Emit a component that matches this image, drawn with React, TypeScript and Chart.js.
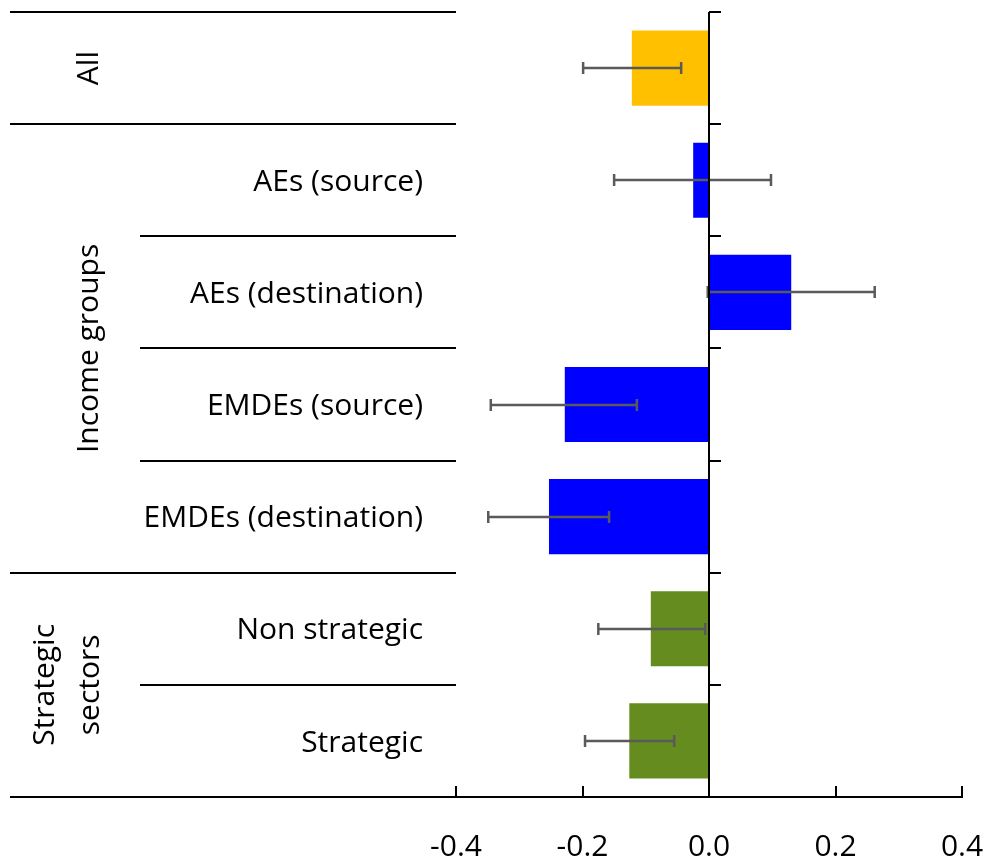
import React, { useEffect, useRef } from 'react';
import { Chart, registerables } from 'chart.js';

Chart.register(...registerables);

// Coefficient estimates with confidence intervals, one row per category
const categories = [
  'All',
  'AEs (source)',
  'AEs (destination)',
  'EMDEs (source)',
  'EMDEs (destination)',
  'Non strategic',
  'Strategic',
];
const estimates = [-0.122, -0.025, 0.13, -0.228, -0.253, -0.092, -0.126];
const lowerBounds = [-0.199, -0.15, -0.002, -0.345, -0.349, -0.175, -0.196];
const upperBounds = [-0.044, 0.098, 0.262, -0.114, -0.158, -0.006, -0.055];
const barColors = ['#FFC000', '#0000FF', '#0000FF', '#0000FF', '#0000FF', '#648C1E', '#648C1E'];

// Axis range and tick values
const xMin = -0.4;
const xMax = 0.4;
const xStep = 0.2;

// Row groups shown at the far left
const groupLabels = [['All'], ['Income groups'], ['Strategic', 'sectors']];
const groupFirst = [0, 1, 5];
const groupLast = [0, 4, 6];

const FONT = '"Open Sans", "Noto Sans", sans-serif';
const FONT_SIZE = 30;

const framePlugin = {
  id: 'frame',
  afterDatasetsDraw(chart: any) {
    const { ctx, chartArea: a, scales } = chart;
    const x = scales.x;
    const y = scales.y;
    const n = categories.length;
    const step = (a.bottom - a.top) / n;
    const boundary = (k: number) => a.top + k * step;
    const fullStarts = new Set<number>([...groupFirst, n]);

    ctx.save();

    // Horizontal separators in the label panel
    ctx.strokeStyle = '#000';
    ctx.lineWidth = 2;
    for (let k = 0; k < n; k++) {
      const yy = Math.round(boundary(k));
      const start = fullStarts.has(k) ? 10 : 140;
      ctx.beginPath();
      ctx.moveTo(start, yy);
      ctx.lineTo(a.left, yy);
      ctx.stroke();
    }

    // Bottom axis line, spanning the label panel too
    const yb = Math.round(a.bottom);
    ctx.beginPath();
    ctx.moveTo(10, yb);
    ctx.lineTo(a.right + 1, yb);
    ctx.stroke();

    // Inward tick marks on the bottom axis
    x.ticks.forEach((t: any) => {
      const px = Math.round(x.getPixelForValue(t.value));
      ctx.beginPath();
      ctx.moveTo(px, yb);
      ctx.lineTo(px, yb - 11);
      ctx.stroke();
    });

    // Error bars
    ctx.strokeStyle = '#5a5a5a';
    ctx.lineWidth = 2.5;
    for (let i = 0; i < n; i++) {
      const cy = Math.round(y.getPixelForValue(i));
      const x0 = x.getPixelForValue(lowerBounds[i]);
      const x1 = x.getPixelForValue(upperBounds[i]);
      ctx.beginPath();
      ctx.moveTo(x0, cy);
      ctx.lineTo(x1, cy);
      ctx.moveTo(x0, cy - 6);
      ctx.lineTo(x0, cy + 6);
      ctx.moveTo(x1, cy - 6);
      ctx.lineTo(x1, cy + 6);
      ctx.stroke();
    }

    // Zero line with row ticks to its right
    const zx = Math.round(x.getPixelForValue(0));
    ctx.strokeStyle = '#000';
    ctx.lineWidth = 2;
    ctx.beginPath();
    ctx.moveTo(zx, a.top);
    ctx.lineTo(zx, a.bottom);
    for (let k = 0; k < n; k++) {
      const yy = Math.round(boundary(k));
      ctx.moveTo(zx, yy);
      ctx.lineTo(zx + 12, yy);
    }
    ctx.stroke();

    // Category labels, right-aligned
    ctx.fillStyle = '#000';
    ctx.font = `${FONT_SIZE}px ${FONT}`;
    ctx.textAlign = 'right';
    ctx.textBaseline = 'alphabetic';
    for (let i = 1; i < n; i++) {
      const cy = y.getPixelForValue(i);
      ctx.fillText(categories[i], a.left - 33, cy + FONT_SIZE * 0.357);
    }

    // Rotated group labels
    ctx.textAlign = 'center';
    groupLabels.forEach((lines, g) => {
      const cy = (boundary(groupFirst[g]) + boundary(groupLast[g] + 1)) / 2;
      const baselines = lines.length === 1 ? [98] : [54, 99];
      lines.forEach((line, j) => {
        ctx.save();
        ctx.translate(baselines[j], cy);
        ctx.rotate(-Math.PI / 2);
        ctx.fillText(line, 0, 0);
        ctx.restore();
      });
    });

    ctx.restore();
  },
};

export default function App() {
  const canvasRef = useRef<HTMLCanvasElement | null>(null);

  useEffect(() => {
    if (!canvasRef.current) return;
    const chart = new Chart(canvasRef.current, {
      type: 'bar',
      data: {
        labels: categories,
        datasets: [
          {
            data: estimates,
            backgroundColor: barColors,
            borderWidth: 0,
            categoryPercentage: 1,
            barPercentage: 0.67,
          },
        ],
      },
      options: {
        indexAxis: 'y',
        animation: false,
        responsive: false,
        maintainAspectRatio: false,
        layout: { padding: { left: 456, right: 24, top: 12, bottom: 0 } },
        plugins: {
          legend: { display: false },
          tooltip: { enabled: false },
        },
        scales: {
          x: {
            type: 'linear',
            min: xMin,
            max: xMax,
            border: { display: false },
            grid: { display: false, drawTicks: false },
            ticks: {
              stepSize: xStep,
              padding: 32,
              color: '#000',
              font: { family: FONT, size: FONT_SIZE },
              callback: (v: any) => Number(v).toFixed(1),
            },
            afterFit: (s: any) => {
              s.height = 63;
              s.paddingLeft = 0;
              s.paddingRight = 0;
            },
          },
          y: {
            display: false,
          },
        },
      },
      plugins: [framePlugin],
    });
    return () => chart.destroy();
  }, []);

  return (
    <div style={{ position: 'absolute', left: 0, top: 0, width: 986, height: 860, background: '#fff' }}>
      <canvas ref={canvasRef} width={986} height={860} style={{ display: 'block' }} />
    </div>
  );
}
